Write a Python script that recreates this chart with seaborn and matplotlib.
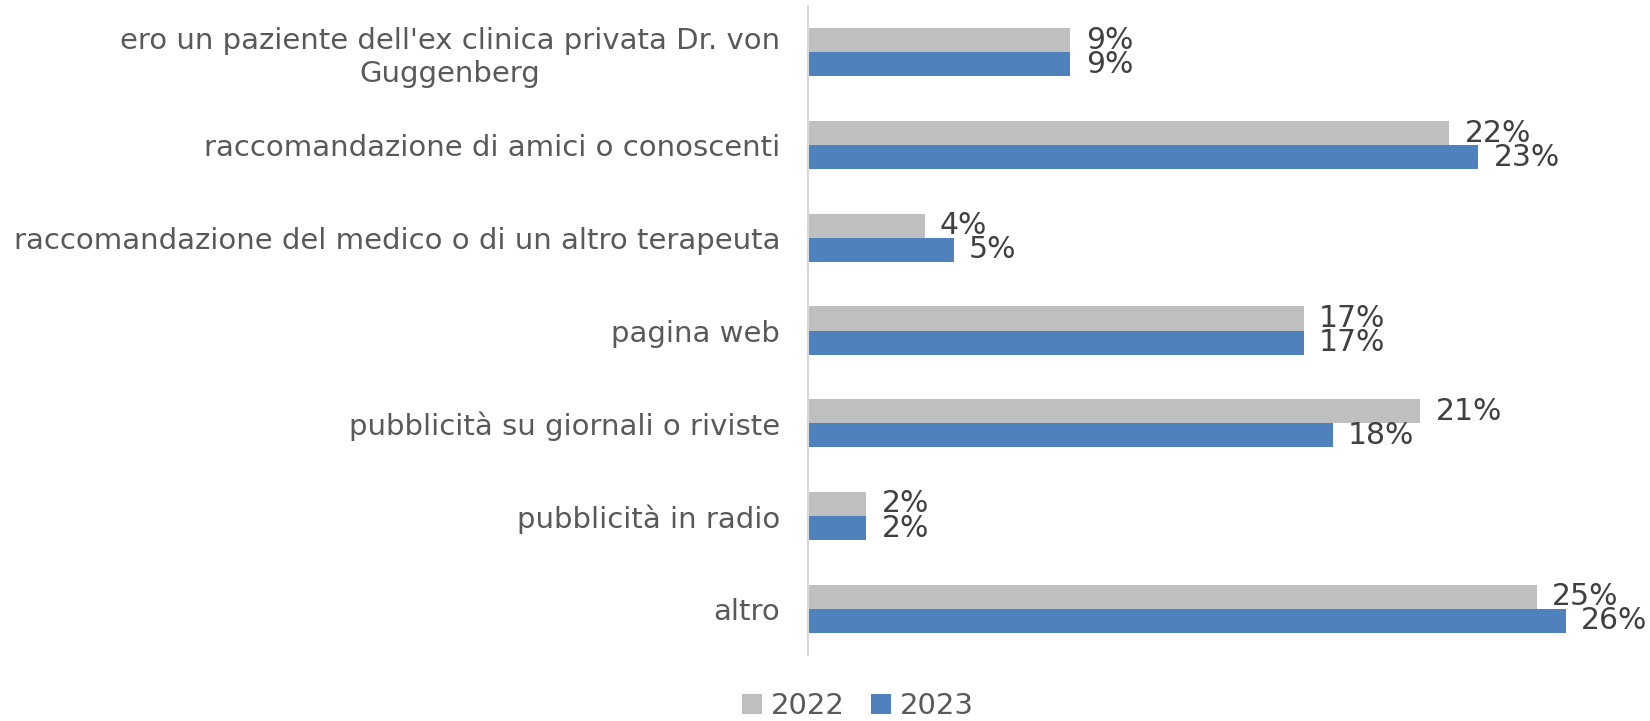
import matplotlib
matplotlib.use("Agg")
import matplotlib.pyplot as plt
import seaborn as sns
import pandas as pd

categories = [
    "ero un paziente dell'ex clinica privata Dr. von\nGuggenberg",
    "raccomandazione di amici o conoscenti",
    "raccomandazione del medico o di un altro terapeuta",
    "pagina web",
    "pubblicità su giornali o riviste",
    "pubblicità in radio",
    "altro",
]
years = ["2022", "2023"]
values_2022 = [9, 22, 4, 17, 21, 2, 25]
values_2023 = [9, 23, 5, 17, 18, 2, 26]
palette = {"2022": "#BFBFBF", "2023": "#4F81BD"}

df = pd.DataFrame({
    "categoria": categories * 2,
    "anno": [years[0]] * len(categories) + [years[1]] * len(categories),
    "valore": values_2022 + values_2023,
})

sns.set_theme(style="white")
plt.rcParams["font.family"] = ["DejaVu Sans"]

fig = plt.figure(figsize=(16.5, 7.21), dpi=100)
ax = fig.add_axes([0.4897, 0.0915, 0.48, 0.9002])

sns.barplot(data=df, y="categoria", x="valore", hue="anno", order=categories,
            hue_order=years, palette=palette, orient="h", width=0.52,
            saturation=1, linewidth=0, ax=ax, legend=True, errorbar=None)

for container in ax.containers:
    ax.bar_label(container, labels=[f"{v:.0f}%" for v in container.datavalues],
                 padding=11, fontsize=21.5, color="#404040")

ax.set_xlim(0, 27.17)
ax.set_ylim(6.5, -0.5)
ax.set_xlabel("")
ax.set_ylabel("")
ax.set_xticks([])
ax.tick_params(axis="y", length=0, pad=20, labelsize=21, labelcolor="#595959")
for lbl in ax.get_yticklabels():
    lbl.set_multialignment("center")
for side in ["top", "right", "bottom"]:
    ax.spines[side].set_visible(False)
ax.spines["left"].set_color("#D9D9D9")
ax.spines["left"].set_linewidth(1.5)

handles, labels = ax.get_legend_handles_labels()
ax.get_legend().remove()
fig.legend(handles, labels, loc="lower center", bbox_to_anchor=(0.52, -0.035),
           ncol=2, frameon=False, fontsize=21, labelcolor="#595959",
           handlelength=0.7, handleheight=0.7, handletextpad=0.3,
           columnspacing=0.9)

fig.savefig("out.png", dpi=100)
